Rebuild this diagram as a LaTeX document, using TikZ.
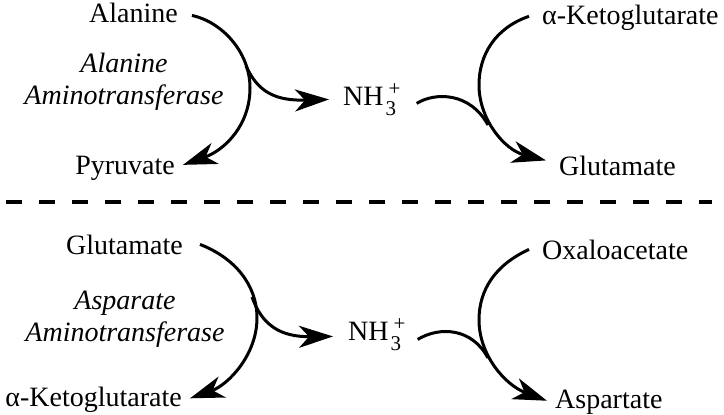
\documentclass[tikz,border=0pt]{standalone}
\usepackage{fontspec}
\setmainfont{Liberation Serif}
\usepackage{tikz}
\usetikzlibrary{arrows.meta}
\newcommand{\ammonium}{NH\kern2pt\rlap{\raisebox{-10pt}{\fontsize{21}{21}\selectfont 3}}\kern3pt\raisebox{9.5pt}{\fontsize{21}{21}\selectfont +}}

\begin{document}
\begin{tikzpicture}[x=1pt, y=-1pt,
    chem/.style={inner sep=0pt, font=\fontsize{28}{33}\selectfont},
    enzyme/.style={inner sep=0pt, align=center, font=\fontsize{28}{32}\selectfont\itshape},
    rxn/.style={line width=3pt, -{Stealth[length=34pt, width=22pt, inset=10pt]}}]

    \useasboundingbox (0,0) rectangle (724,415);

    % alanine aminotransferase
    \node[chem, anchor=base east] (ala) at (178,22) {Alanine};
    \node[chem, anchor=base east] (pyr) at (175,174) {Pyruvate};
    \node[enzyme] (alt) at (124,82) {Alanine\\Aminotransferase};
    \node[chem, anchor=base west] (nhA) at (343,105) {\ammonium};
    \node[chem, anchor=base west] (akgA) at (542,24) {α-Ketoglutarate};
    \node[chem, anchor=base west] (gluA) at (559,175) {Glutamate};

    \draw[rxn] ([shift={(14,3)}]ala.east) .. controls (222,22) and (250,52) .. (250,88)
        .. controls (250,125) and (225,150) .. ([shift={(8,-3)}]pyr.east);
    \coordinate (brA) at (246,66);
    \draw[rxn] (brA) .. controls (258,92) and (275,101) .. ([shift={(-14,0)}]nhA.west);
    \draw[rxn] ([shift={(-13,-1)}]akgA.west) .. controls (495,28) and (479,55) .. (479,85)
        .. controls (479,120) and (505,150) .. ([shift={(-13,-5)}]gluA.west);
    \coordinate (mgA) at (488,125);
    \draw[line width=3pt] ([shift={(16,4)}]nhA.east) .. controls (435,92) and (470,92) .. (mgA);

    \draw[line width=3.2pt, dash pattern=on 16pt off 17pt] (6,202) -- (712,202);

    % aspartate aminotransferase
    \node[chem, anchor=base east] (gluB) at (183,254) {Glutamate};
    \node[chem, anchor=base east] (akgB) at (182,406) {α-Ketoglutarate};
    \node[enzyme] (ast) at (125,319) {Asparate\\Aminotransferase};
    \node[chem, anchor=base west] (nhB) at (348,340) {\ammonium};
    \node[chem, anchor=base west] (oxa) at (542,259) {Oxaloacetate};
    \node[chem, anchor=base west] (asp) at (555,408) {Aspartate};

    \draw[rxn] ([shift={(17,0)}]gluB.east) .. controls (235,258) and (257,285) .. (257,318)
        .. controls (257,355) and (228,385) .. ([shift={(8,-1)}]akgB.east);
    \coordinate (brB) at (252,297);
    \draw[rxn] (brB) .. controls (262,325) and (280,337) .. ([shift={(-15,2)}]nhB.west);
    \draw[rxn] ([shift={(-13,0)}]oxa.west) .. controls (495,265) and (479,290) .. (479,320)
        .. controls (479,355) and (505,385) .. ([shift={(-8,-1)}]asp.west);
    \coordinate (mgB) at (488,358);
    \draw[line width=3pt] ([shift={(12,5)}]nhB.east) .. controls (440,326) and (472,328) .. (mgB);
\end{tikzpicture}
\end{document}
